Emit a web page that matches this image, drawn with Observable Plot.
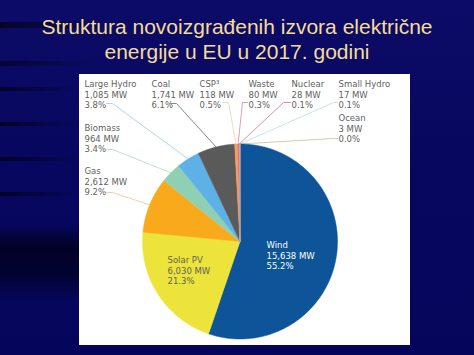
<!DOCTYPE html>
<html><head><meta charset="utf-8">
<script src="https://cdn.jsdelivr.net/npm/d3@7"></script>
<script src="https://cdn.jsdelivr.net/npm/@observablehq/plot@0.6"></script>
<style>
html,body{margin:0;padding:0;}
body{width:474px;height:355px;overflow:hidden;position:relative;
background:
 linear-gradient(to right, rgba(0,0,0,0.6), rgba(0,0,0,0) 25%) 0 22px/474px 6px no-repeat,
 linear-gradient(to right, rgba(0,0,0,0.5), rgba(0,0,0,0) 20%) 0 61px/474px 5px no-repeat,
 linear-gradient(to right, rgba(0,0,0,0.6), rgba(0,0,0,0) 17%) 0 87px/474px 4px no-repeat,
 linear-gradient(to right, rgba(0,0,0,0.6), rgba(0,0,0,0) 17%) 0 122px/474px 4px no-repeat,
 linear-gradient(to right, rgba(0,0,0,0.6), rgba(0,0,0,0) 17%) 0 157px/474px 4px no-repeat,
 linear-gradient(to right, rgba(0,0,0,0.6), rgba(0,0,0,0) 17%) 0 192px/474px 4px no-repeat,
 linear-gradient(to bottom, rgba(0,0,20,0) 0, rgba(0,0,20,0.75) 20px, rgba(0,0,20,0.6) 50px, rgba(0,0,20,0) 75px) 0 225px/80px 80px no-repeat,
 linear-gradient(180deg,#0c0c68 0%,#07075f 45%,#05055c 100%);
}
#title{position:absolute;left:0;top:0;width:474px;height:72px;box-sizing:border-box;padding-top:14px;
 font-family:"Liberation Sans",Arial,sans-serif;font-size:21px;line-height:25px;color:#f4dc98;text-align:center;}
#panel{position:absolute;left:79px;top:74px;width:331px;height:271px;background:#fff;}
#chart{position:absolute;left:0;top:72px;}
</style></head>
<body>
<div id="title">Struktura novoizgrađenih izvora električne<br>energije u EU u 2017. godini</div>
<div id="panel"></div>
<div id="chart"></div>
<script>
const sources = ["Wind","Solar PV","Gas","Biomass","Large Hydro","Coal","CSP³","Waste","Nuclear","Small Hydro","Ocean"];
const capacityMW = [15638,6030,2612,964,1085,1741,118,80,28,17,3];
const mwText = ["15,638 MW","6,030 MW","2,612 MW","964 MW","1,085 MW","1,741 MW","118 MW","80 MW","28 MW","17 MW","3 MW"];
const shareText = ["55.2%","21.3%","9.2%","3.4%","3.8%","6.1%","0.5%","0.3%","0.1%","0.1%","0.0%"];
const sliceColors = ["#0d5499","#ece43a","#f8aa1c","#8fd0b4","#5db1e6","#5b5a5a","#f6a15a","#f07d7d","#e2414e","#c5e3e3","#9a9a9a"];
const leaderColors = [null,null,"#f2c48a","#b0d8c4","#9cc8e8","#6a6a6a","#e8d4a8","#d8849c","#d0709a","#b8dcdc","#c8bc9c"];
const textColors = ["#ffffff","#5f5f5f","#5f5f5f","#5f5f5f","#5f5f5f","#5f5f5f","#5f5f5f","#5f5f5f","#5f5f5f","#5f5f5f","#5f5f5f"];

// layout (page pixel coordinates)
const cx = 239.5, cy = 241, R = 97.5, topOff = 72;
const labelAt = {
  "Wind":[266,244], "Solar PV":[167,259], "Gas":[84,170], "Biomass":[84,127],
  "Large Hydro":[84,83], "Coal":[151,83], "CSP³":[199,83], "Waste":[248,83],
  "Nuclear":[291,83], "Small Hydro":[338,83], "Ocean":[338,117]
};
const leaderAt = {
  "Gas":[[106,192],[112,192]], "Biomass":[[106,149],[112,149]],
  "Large Hydro":[[106,103],[112,103]], "Coal":[[170,103],[176,103]],
  "CSP³":[[222,102],[228,102]], "Waste":[[247,102],[242,102]],
  "Nuclear":[[290,102],[283,102]], "Small Hydro":[[337,102],[333,102]],
  "Ocean":[[337,138],[333,138]]
};
const ux = px => (px - cx) / R, uy = py => (py - cy) / R;

const total = d3.sum(capacityMW);
let acc = 0;
const slices = sources.map((s, i) => {
  const a0 = acc / total * 2 * Math.PI; acc += capacityMW[i];
  const a1 = acc / total * 2 * Math.PI;
  return {s, i, a0, a1, mid: (a0 + a1) / 2};
});
const slicePts = slices.flatMap(d => {
  const n = Math.max(2, Math.ceil((d.a1 - d.a0) / (Math.PI / 360)));
  const pts = [{key: d.s, color: sliceColors[d.i], x: 0, y: 0}];
  for (let k = 0; k <= n; k++) {
    const a = d.a0 + (d.a1 - d.a0) * k / n;
    pts.push({key: d.s, color: sliceColors[d.i], x: Math.sin(a), y: -Math.cos(a)});
  }
  return pts;
});
const leaderPts = slices.filter(d => leaderAt[d.s]).flatMap(d => {
  const [p0, p1] = leaderAt[d.s];
  return [
    {key: d.s, color: leaderColors[d.i], x: ux(p0[0]), y: uy(p0[1])},
    {key: d.s, color: leaderColors[d.i], x: ux(p1[0]), y: uy(p1[1])},
    {key: d.s, color: leaderColors[d.i], x: Math.sin(d.mid), y: -Math.cos(d.mid)}
  ];
});
const labels = slices.map(d => ({
  x: ux(labelAt[d.s][0]), y: uy(labelAt[d.s][1] - 3.3),
  text: d.s + "\n" + mwText[d.i] + "\n" + shareText[d.i], fill: textColors[d.i]
}));

const chart = Plot.plot({
  width: 474, height: 283, margin: 0,
  x: {domain: [-1, 1], range: [cx - R, cx + R], axis: null},
  y: {domain: [-1, 1], range: [cy - R - topOff, cy + R - topOff], axis: null},
  color: {type: "identity"},
  style: {background: "transparent", overflow: "visible"},
  marks: [
    Plot.line(leaderPts, {x: "x", y: "y", z: "key", stroke: "color", strokeWidth: 0.8}),
    Plot.line(slicePts, {x: "x", y: "y", z: "key", fill: "color", stroke: "color", strokeWidth: 0.5, curve: "linear-closed"}),
    Plot.text(labels, {x: "x", y: "y", text: "text", fill: "fill", textAnchor: "start", lineAnchor: "top",
      fontSize: 8.5, lineHeight: 1.2, fontFamily: "DejaVu Sans"})
  ]
});
document.getElementById("chart").appendChild(chart);
</script>
</body></html>
